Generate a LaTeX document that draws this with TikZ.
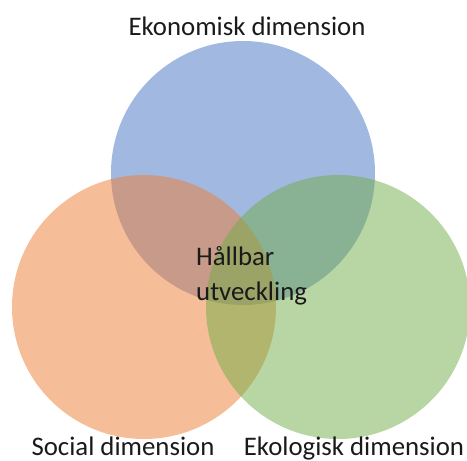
\documentclass[tikz,border=0pt]{standalone}
\usepackage{fontspec}
\setmainfont{Carlito}
\definecolor{cblue}{HTML}{4472C4}
\definecolor{corange}{HTML}{ED7D31}
\definecolor{cgreen}{HTML}{70AD47}
\definecolor{txt}{HTML}{1A1A1A}
\begin{document}
\begin{tikzpicture}[x=1pt,y=-1pt,
  venn/.style={fill opacity=0.5},
  lbl/.style={text=txt,font=\fontsize{26.8}{30}\selectfont,inner sep=0pt}]
\useasboundingbox (0,0) rectangle (467,461);
\fill[cblue,venn] (243,173) circle (132);
\fill[corange,venn] (144,307) circle (132);
\fill[cgreen,venn] (338,307) circle (132);
\node[lbl,anchor=base] (eko) at (247,35) {Ekonomisk dimension};
\node[lbl,anchor=base] (soc) at (123,455) {Social dimension};
\node[lbl,anchor=base] (ekol) at (354,455) {Ekologisk dimension};
\node[lbl,anchor=base west] (h1) at (196,265) {Hållbar};
\node[lbl,anchor=base west] (h2) at (196,300) {utveckling};
\end{tikzpicture}
\end{document}
